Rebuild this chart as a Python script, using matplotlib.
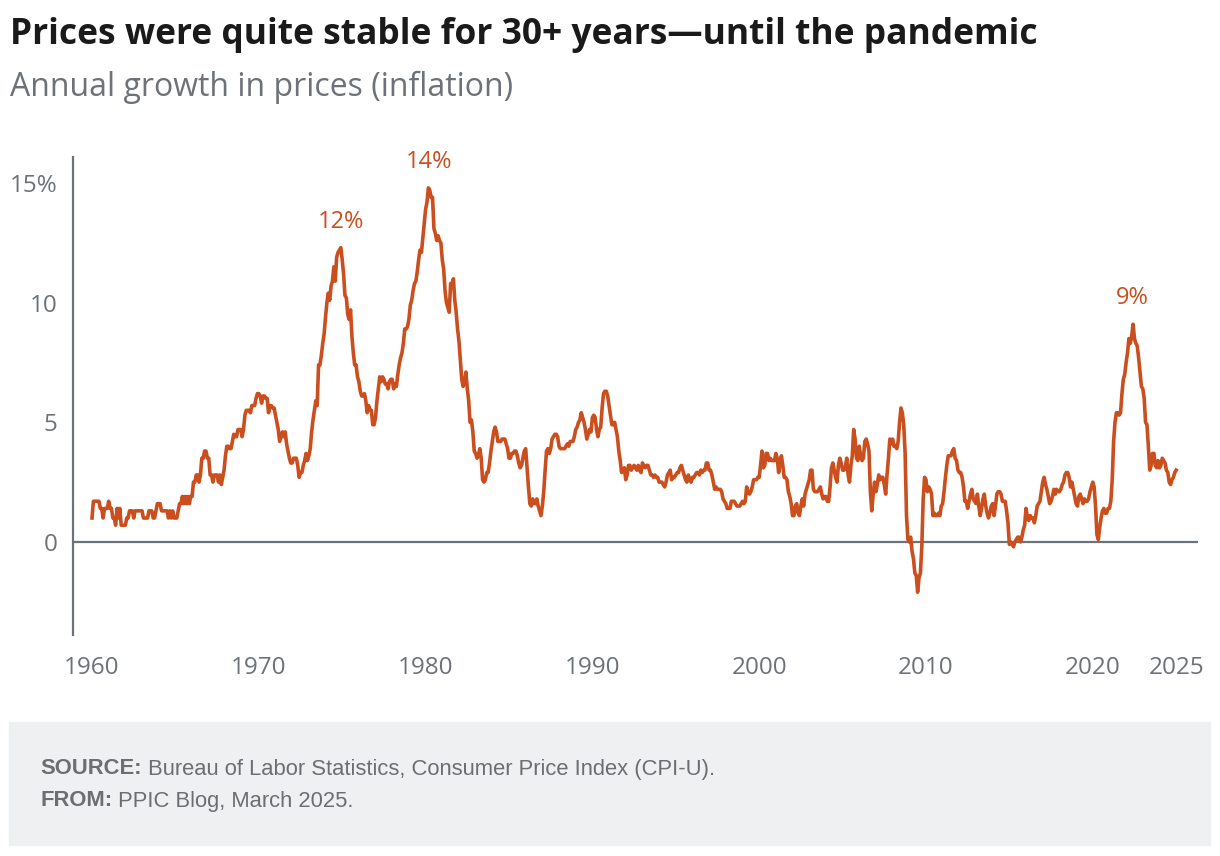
import numpy as np
import matplotlib
matplotlib.use("Agg")
import matplotlib.pyplot as plt
from matplotlib.patches import Rectangle

# monthly CPI-U, 12-month % change, Jan 1960 .. Jan 2025
cpi_yoy = {
    1960: [1.0, 1.7, 1.7, 1.7, 1.7, 1.7, 1.4, 1.4, 1.0, 1.4, 1.4, 1.4],
    1961: [1.7, 1.4, 1.4, 1.0, 1.0, 0.7, 1.4, 1.0, 1.4, 0.7, 0.7, 0.7],
    1962: [0.7, 1.0, 1.0, 1.3, 1.3, 1.3, 1.0, 1.3, 1.3, 1.3, 1.3, 1.3],
    1963: [1.3, 1.0, 1.0, 1.0, 1.0, 1.3, 1.3, 1.3, 1.0, 1.0, 1.3, 1.6],
    1964: [1.6, 1.6, 1.3, 1.3, 1.3, 1.3, 1.3, 1.0, 1.3, 1.0, 1.3, 1.0],
    1965: [1.0, 1.0, 1.3, 1.6, 1.6, 1.9, 1.6, 1.9, 1.6, 1.9, 1.6, 1.9],
    1966: [1.9, 2.5, 2.5, 2.8, 2.8, 2.5, 2.8, 3.5, 3.5, 3.8, 3.8, 3.5],
    1967: [3.5, 2.8, 2.8, 2.5, 2.8, 2.8, 2.8, 2.5, 2.8, 2.4, 2.7, 3.0],
    1968: [3.6, 4.0, 4.0, 3.9, 3.9, 4.2, 4.5, 4.4, 4.4, 4.7, 4.7, 4.7],
    1969: [4.4, 4.7, 5.3, 5.5, 5.5, 5.5, 5.4, 5.7, 5.7, 5.7, 6.0, 6.2],
    1970: [6.2, 6.1, 5.8, 6.1, 6.1, 6.0, 6.0, 5.4, 5.7, 5.7, 5.6, 5.6],
    1971: [5.3, 5.0, 4.7, 4.2, 4.4, 4.6, 4.4, 4.6, 4.1, 3.8, 3.5, 3.3],
    1972: [3.3, 3.5, 3.5, 3.5, 3.2, 2.7, 2.9, 2.9, 3.2, 3.4, 3.7, 3.4],
    1973: [3.6, 3.9, 4.6, 5.1, 5.5, 5.9, 5.7, 7.4, 7.4, 7.8, 8.3, 8.7],
    1974: [9.4, 10.0, 10.4, 10.1, 10.7, 10.9, 11.5, 10.9, 11.9, 12.1, 12.2, 12.3],
    1975: [11.8, 11.2, 10.3, 10.2, 9.5, 9.3, 9.7, 8.6, 7.9, 7.4, 7.4, 6.9],
    1976: [6.7, 6.3, 6.1, 6.1, 6.2, 5.9, 5.4, 5.7, 5.5, 5.5, 4.9, 4.9],
    1977: [5.2, 5.9, 6.4, 6.9, 6.7, 6.9, 6.8, 6.6, 6.6, 6.4, 6.7, 6.8],
    1978: [6.8, 6.4, 6.6, 6.5, 7.0, 7.4, 7.7, 7.9, 8.3, 8.9, 8.9, 9.0],
    1979: [9.3, 9.9, 10.1, 10.5, 10.8, 10.9, 11.3, 11.8, 12.2, 12.1, 12.7, 13.3],
    1980: [13.9, 14.2, 14.8, 14.7, 14.4, 14.4, 13.1, 12.9, 12.6, 12.8, 12.6, 12.5],
    1981: [11.8, 11.4, 10.5, 10.0, 9.8, 9.6, 10.8, 10.8, 11.0, 10.1, 9.6, 8.9],
    1982: [8.4, 7.6, 6.8, 6.5, 6.7, 7.1, 6.4, 5.9, 5.0, 5.1, 4.6, 3.8],
    1983: [3.7, 3.5, 3.6, 3.9, 3.5, 2.6, 2.5, 2.6, 2.9, 2.9, 3.3, 3.8],
    1984: [4.2, 4.6, 4.8, 4.6, 4.2, 4.2, 4.2, 4.3, 4.3, 4.3, 4.1, 3.9],
    1985: [3.5, 3.5, 3.7, 3.7, 3.8, 3.8, 3.6, 3.3, 3.1, 3.2, 3.5, 3.8],
    1986: [3.9, 3.1, 2.3, 1.6, 1.5, 1.8, 1.6, 1.6, 1.8, 1.5, 1.3, 1.1],
    1987: [1.5, 2.1, 3.0, 3.8, 3.9, 3.7, 3.9, 4.3, 4.4, 4.5, 4.5, 4.4],
    1988: [4.0, 3.9, 3.9, 3.9, 3.9, 4.0, 4.1, 4.0, 4.2, 4.2, 4.2, 4.4],
    1989: [4.7, 4.8, 5.0, 5.1, 5.4, 5.2, 5.0, 4.7, 4.3, 4.5, 4.7, 4.6],
    1990: [5.2, 5.3, 5.2, 4.7, 4.4, 4.7, 4.8, 5.6, 6.2, 6.3, 6.3, 6.1],
    1991: [5.7, 5.3, 4.9, 4.9, 5.0, 4.7, 4.4, 3.8, 3.4, 2.9, 3.0, 3.1],
    1992: [2.6, 2.8, 3.2, 3.2, 3.0, 3.1, 3.2, 3.1, 3.0, 3.2, 3.0, 2.9],
    1993: [3.3, 3.2, 3.1, 3.2, 3.2, 3.0, 2.8, 2.8, 2.7, 2.8, 2.7, 2.7],
    1994: [2.5, 2.5, 2.5, 2.4, 2.3, 2.5, 2.8, 2.9, 3.0, 2.6, 2.7, 2.7],
    1995: [2.8, 2.9, 2.9, 3.1, 3.2, 3.0, 2.8, 2.6, 2.5, 2.8, 2.6, 2.5],
    1996: [2.7, 2.7, 2.8, 2.9, 2.9, 2.8, 3.0, 2.9, 3.0, 3.0, 3.3, 3.3],
    1997: [3.0, 3.0, 2.8, 2.5, 2.2, 2.3, 2.2, 2.2, 2.2, 2.1, 1.8, 1.7],
    1998: [1.6, 1.4, 1.4, 1.4, 1.7, 1.7, 1.7, 1.6, 1.5, 1.5, 1.5, 1.6],
    1999: [1.7, 1.6, 1.7, 2.3, 2.1, 2.0, 2.1, 2.3, 2.6, 2.6, 2.6, 2.7],
    2000: [2.7, 3.2, 3.8, 3.1, 3.2, 3.7, 3.7, 3.4, 3.5, 3.4, 3.4, 3.4],
    2001: [3.7, 3.5, 2.9, 3.3, 3.6, 3.2, 2.7, 2.7, 2.6, 2.1, 1.9, 1.6],
    2002: [1.1, 1.1, 1.5, 1.6, 1.2, 1.1, 1.5, 1.8, 1.5, 2.0, 2.2, 2.4],
    2003: [2.6, 3.0, 3.0, 2.2, 2.1, 2.1, 2.1, 2.2, 2.3, 2.0, 1.8, 1.9],
    2004: [1.9, 1.7, 1.7, 2.3, 3.1, 3.3, 3.0, 2.7, 2.5, 3.2, 3.5, 3.3],
    2005: [3.0, 3.0, 3.1, 3.5, 2.8, 2.5, 3.2, 3.6, 4.7, 4.3, 3.5, 3.4],
    2006: [4.0, 3.6, 3.4, 3.5, 4.2, 4.3, 4.1, 3.8, 2.1, 1.3, 2.0, 2.5],
    2007: [2.1, 2.4, 2.8, 2.6, 2.7, 2.7, 2.4, 2.0, 2.8, 3.5, 4.3, 4.1],
    2008: [4.3, 4.0, 4.0, 3.9, 4.2, 5.0, 5.6, 5.4, 4.9, 3.7, 1.1, 0.1],
    2009: [0.0, 0.2, -0.4, -0.7, -1.3, -1.4, -2.1, -1.5, -1.3, -0.2, 1.8, 2.7],
    2010: [2.6, 2.1, 2.3, 2.2, 2.0, 1.1, 1.2, 1.1, 1.1, 1.2, 1.1, 1.5],
    2011: [1.6, 2.1, 2.7, 3.2, 3.6, 3.6, 3.6, 3.8, 3.9, 3.5, 3.4, 3.0],
    2012: [2.9, 2.9, 2.7, 2.3, 1.7, 1.7, 1.4, 1.7, 2.0, 2.2, 1.8, 1.7],
    2013: [1.6, 2.0, 1.5, 1.1, 1.4, 1.8, 2.0, 1.5, 1.2, 1.0, 1.2, 1.5],
    2014: [1.6, 1.1, 1.5, 2.0, 2.1, 2.1, 2.0, 1.7, 1.7, 1.7, 1.3, 0.8],
    2015: [-0.1, 0.0, -0.1, -0.2, 0.0, 0.1, 0.2, 0.2, 0.0, 0.2, 0.5, 0.7],
    2016: [1.4, 1.0, 0.9, 1.1, 1.0, 1.0, 0.8, 1.1, 1.5, 1.6, 1.7, 2.1],
    2017: [2.5, 2.7, 2.4, 2.2, 1.9, 1.6, 1.7, 1.9, 2.2, 2.0, 2.2, 2.1],
    2018: [2.1, 2.2, 2.4, 2.5, 2.8, 2.9, 2.9, 2.7, 2.3, 2.5, 2.2, 1.9],
    2019: [1.6, 1.5, 1.9, 2.0, 1.8, 1.6, 1.8, 1.7, 1.7, 1.8, 2.1, 2.3],
    2020: [2.5, 2.3, 1.5, 0.3, 0.1, 0.6, 1.0, 1.3, 1.4, 1.2, 1.2, 1.4],
    2021: [1.4, 1.7, 2.6, 4.2, 5.0, 5.4, 5.4, 5.3, 5.4, 6.2, 6.8, 7.0],
    2022: [7.5, 7.9, 8.5, 8.3, 8.6, 9.1, 8.5, 8.3, 8.2, 7.7, 7.1, 6.5],
    2023: [6.4, 6.0, 5.0, 4.9, 4.0, 3.0, 3.2, 3.7, 3.7, 3.2, 3.1, 3.4],
    2024: [3.1, 3.2, 3.5, 3.4, 3.3, 3.0, 2.9, 2.5, 2.4, 2.6, 2.7, 2.9],
    2025: [3.0],
}

peak_labels = ["12%", "14%", "9%"]
peak_dates = [1974.9, 1980.2, 2022.4]
peak_values = [12.3, 14.8, 9.1]

y_ticks = [0, 5, 10, 15]
y_tick_labels = ["0", "5", "10", "15%"]
x_ticks = [1960, 1970, 1980, 1990, 2000, 2010, 2020, 2025]

# flatten to a monthly series
dates = []
values = []
for yr, months in cpi_yoy.items():
    for m, v in enumerate(months):
        dates.append(yr + m / 12.0)
        values.append(v)
dates = np.array(dates)
values = np.array(values)

orange = "#CB4F1E"
grey = "#6D7278"
font = "Open Sans"

fig = plt.figure(figsize=(12.2, 8.56), dpi=100)
ax = fig.add_axes([73 / 1220, 1 - 635 / 856, 1125 / 1220, 478 / 856])

ax.plot(dates, values, color=orange, lw=2.6, solid_joinstyle="round", zorder=3)
ax.axhline(0, color=grey, lw=1.6, zorder=2)

ax.set_xlim(1958.86, 2026.31)
ax.set_ylim(-3.89, 16.09)

for s in ["top", "right", "bottom"]:
    ax.spines[s].set_visible(False)
ax.spines["left"].set_color(grey)
ax.spines["left"].set_linewidth(1.6)

ax.set_yticks(y_ticks)
ax.set_yticklabels(y_tick_labels)
ax.set_xticks(x_ticks)
ax.set_xticklabels([str(x) for x in x_ticks])
ax.tick_params(axis="both", length=0, labelsize=17.5, labelcolor=grey)
ax.tick_params(axis="y", pad=11)
ax.tick_params(axis="x", pad=15)
for lab in ax.get_xticklabels() + ax.get_yticklabels():
    lab.set_family(font)

for lbl, d, v in zip(peak_labels, peak_dates, peak_values):
    ax.annotate(lbl, (d, v), xytext=(0, 10), textcoords="offset points",
                ha="center", va="bottom", color=orange, fontsize=17, family=font)

# title / subtitle
fig.text(10 / 1220, 1 - 35 / 856, "Prices were quite stable for 30+ years\u2014until the pandemic",
         fontsize=25.5, fontweight="bold", family=font, color="#1a1a1a", va="center")
fig.text(10 / 1220, 1 - 87 / 856, "Annual growth in prices (inflation)",
         fontsize=23, family=font, color=grey, va="center")

# footer box
fig.patches.append(Rectangle((9 / 1220, 1 - 845 / 856), 1201 / 1220, 123 / 856,
                             transform=fig.transFigure, color="#EFF0F2", zorder=0))

renderer = fig.canvas.get_renderer()
foot_col = "#6D6E71"
for yy, bold, rest in [(769, "SOURCE:", " Bureau of Labor Statistics, Consumer Price Index (CPI-U)."),
                       (801, "FROM:", " PPIC Blog, March 2025.")]:
    t = fig.text(40 / 1220, 1 - yy / 856, bold, fontsize=15.8, fontweight="bold",
                 family="Liberation Sans", color=foot_col, va="center")
    bb = t.get_window_extent(renderer)
    fig.text(bb.x1 / 1220, 1 - yy / 856, rest, fontsize=15.8,
             family="Liberation Sans", color=foot_col, va="center")

fig.savefig("out.png", dpi=100)
